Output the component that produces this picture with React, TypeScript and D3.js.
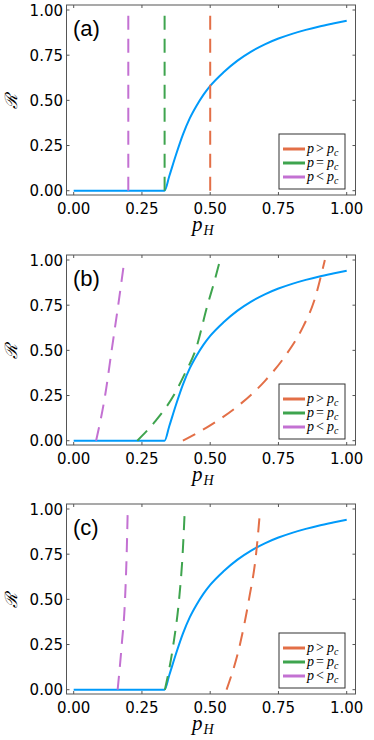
import { useEffect } from 'react';
import * as d3 from 'd3';

// blue curve: R vs p_H (same in all three panels)
const pH = [0, 0.333, 0.35, 0.375, 0.4, 0.425, 0.45, 0.475, 0.5, 0.55, 0.6, 0.65, 0.7, 0.75, 0.8, 0.85, 0.9, 0.95, 1.0];
const Rvals = [0, 0, 0.08, 0.2, 0.31, 0.4, 0.47, 0.53, 0.58, 0.657, 0.72, 0.77, 0.81, 0.842, 0.868, 0.89, 0.909, 0.925, 0.94];

// dashed curves, [x, y] pairs
const aGreater = [[0.5, 0], [0.5, 1]];
const aEqual = [[0.333, 0], [0.333, 1]];
const aLess = [[0.2, 0], [0.2, 1]];

const bGreater = [[0.4, 0], [0.5, 0.085], [0.6, 0.19], [0.7, 0.33], [0.78, 0.48], [0.84, 0.63], [0.88, 0.77], [0.92, 1.0]];
const bEqual = [[0.233, 0], [0.3, 0.11], [0.366, 0.25], [0.41, 0.38], [0.446, 0.5], [0.49, 0.75], [0.515, 0.88], [0.536, 1.0]];
const bLess = [[0.082, 0], [0.115, 0.25], [0.139, 0.5], [0.163, 0.75], [0.185, 0.99]];

const cGreater = [[0.56, 0], [0.609, 0.25], [0.642, 0.5], [0.668, 0.75], [0.682, 0.98]];
const cEqual = [[0.334, 0], [0.365, 0.25], [0.386, 0.5], [0.399, 0.75], [0.407, 1.0]];
const cLess = [[0.161, 0], [0.176, 0.25], [0.188, 0.5], [0.194, 0.75], [0.198, 1.0]];

const panelLabels = ['(a)', '(b)', '(c)'];
const panelSeries = [
  [aGreater, aEqual, aLess],
  [bGreater, bEqual, bLess],
  [cGreater, cEqual, cLess],
];
const legendOps = ['>', '=', '<'];
const xTicks = [0, 0.25, 0.5, 0.75, 1.0];
const yTicks = [0, 0.25, 0.5, 0.75, 1.0];

const blue = '#009AFA';
const seriesColors = ['#E36F47', '#3EA44E', '#C371D2'];

const W = 374;
const H = 740;
const panelTops = [5, 255, 504];
const frameL = 66.5;
const frameR = 355.5;
const frameH = 190;

export default function App() {
  useEffect(() => {
    document.body.style.margin = '0';
  }, []);

  const x = d3.scaleLinear().domain([0, 1]).range([73.7, 346.7]);
  const fmt = d3.format('.2f');
  const tickFont = 'DejaVu Sans, sans-serif';
  const mathFont = 'Liberation Serif, DejaVu Serif, serif';

  return (
    <svg width={W} height={H} style={{ display: 'block' }}>
      {panelTops.map((T, i) => {
        const y = d3.scaleLinear().domain([0, 1]).range([T + 185.7, T + 5]);
        const blueLine = d3
          .line<number>()
          .x((_, k) => x(pH[k]))
          .y(d => y(d))
          .curve(d3.curveMonotoneX);
        const dashed = d3.line<number[]>().x(d => x(d[0])).y(d => y(d[1])).curve(d3.curveMonotoneX);
        const B = T + frameH;
        const lx = 279;
        const lw = 66;
        const lh = 55;
        const ly = B - 6 - lh;
        return (
          <g key={i}>
            {/* frame */}
            <rect x={frameL} y={T} width={frameR - frameL} height={frameH} fill="none" stroke="#555" strokeWidth={1} />
            {xTicks.map(t => (
              <g key={'x' + t}>
                <line x1={x(t)} x2={x(t)} y1={B} y2={B - 3} stroke="#555" />
                <line x1={x(t)} x2={x(t)} y1={T} y2={T + 3} stroke="#555" />
                <text x={x(t)} y={B + 18.5} textAnchor="middle" fontFamily={tickFont} fontSize={15} fill="#000">
                  {fmt(t)}
                </text>
              </g>
            ))}
            {yTicks.map(t => (
              <g key={'y' + t}>
                <line x1={frameL} x2={frameL + 3} y1={y(t)} y2={y(t)} stroke="#555" />
                <line x1={frameR} x2={frameR - 3} y1={y(t)} y2={y(t)} stroke="#555" />
                <text x={63} y={y(t) + 5.5} textAnchor="end" fontFamily={tickFont} fontSize={15} fill="#000">
                  {fmt(t)}
                </text>
              </g>
            ))}
            {/* axis labels */}
            <text x={192} y={B + 36} fontFamily={mathFont} fontSize={21} fontStyle="italic">
              p
            </text>
            <text x={203.5} y={B + 40} fontFamily={mathFont} fontSize={14} fontStyle="italic">
              H
            </text>
            <text
              transform={`translate(17,${T + 96}) rotate(-90)`}
              textAnchor="middle"
              fontFamily={mathFont}
              fontSize={17}
              fontStyle="italic"
            >
              ℛ
            </text>
            {/* data */}
            <path d={blueLine(Rvals) || ''} fill="none" stroke={blue} strokeWidth={2} />
            {panelSeries[i].map((s, k) => (
              <path
                key={k}
                d={dashed(s as number[][]) || ''}
                fill="none"
                stroke={seriesColors[k]}
                strokeWidth={2}
                strokeDasharray="14 9"
              />
            ))}
            <text x={73} y={T + 31} fontFamily="Liberation Sans, Arial, sans-serif" fontSize={22}>
              {panelLabels[i]}
            </text>
            {/* legend */}
            <rect x={lx} y={ly} width={lw} height={lh} fill="#fff" stroke="#333" strokeWidth={1} />
            {legendOps.map((op, k) => {
              const ry = ly + 15 + k * 14;
              return (
                <g key={op}>
                  <line x1={lx + 4} x2={lx + 26} y1={ry} y2={ry} stroke={seriesColors[k]} strokeWidth={3} />
                  <text x={lx + 28} y={ry + 4} fontFamily={mathFont} fontSize={14}>
                    <tspan fontStyle="italic">p</tspan>
                    <tspan dx={2}>{op}</tspan>
                    <tspan dx={3} fontStyle="italic">p</tspan>
                    <tspan dy={3} fontSize={10} fontStyle="italic">c</tspan>
                  </text>
                </g>
              );
            })}
          </g>
        );
      })}
    </svg>
  );
}
